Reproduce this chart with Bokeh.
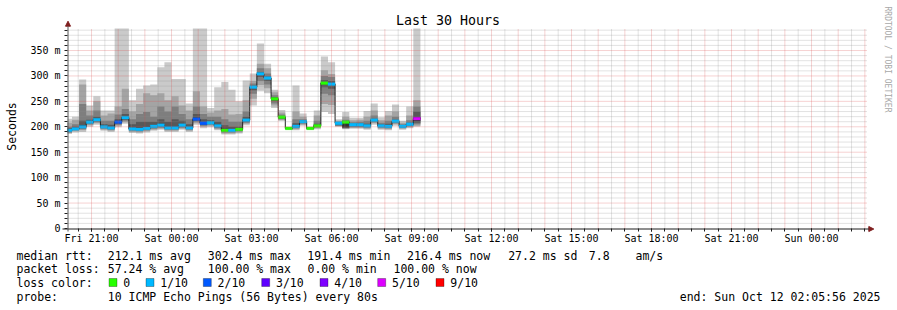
from math import pi
from bokeh.plotting import figure
from bokeh.models import FixedTicker, Label, BoxAnnotation, Arrow, NormalHead, Range1d, LinearAxis
from bokeh.embed import file_html
from bokeh.resources import INLINE

# ---------------- data ----------------
graph_start_h = 20 + 5 / 60 + 56 / 3600      # Fri 20:05:56 (hours since Fri 00:00)
graph_end_h = graph_start_h + 30              # Sun 02:05:56
step_h = 16 / 60                              # RRD step: 16 minutes
first_step_h = 20.0                           # first bin starts Fri 20:00

median_ms = [193, 196, 200, 209, 214, 200, 198, 209, 218, 196,
             195, 197, 201, 203, 198, 198, 203, 198, 215, 207,
             208, 202, 193, 193, 195, 213, 278, 304, 296, 255,
             219, 197, 201, 210, 197, 202, 286, 284, 207, 209,
             204, 204, 202, 213, 202, 201, 211, 201, 205, 216]
loss_level = [1, 1, 1, 1, 1, 1, 1, 2, 1, 1,
              1, 1, 1, 1, 1, 1, 1, 1, 2, 2,
              1, 1, 0, 1, 0, 1, 1, 1, 1, 0,
              0, 0, 1, 1, 0, 0, 0, 1, 1, 0,
              1, 1, 1, 1, 1, 1, 1, 1, 1, 5]
# sorted ping RTTs (ms) of each step, ping1 = fastest ... ping10 = slowest
ping1 = [186, 189, 190, 200, 204, 192, 190, 199, 206, 188, 187, 189, 192, 194, 190, 190, 194, 190, 204, 197,
         199, 193, 185, 185, 187, 203, 242, 271, 266, 237, 212, 194, 193, 202, 194, 195, 229, 225, 200, 195,
         196, 196, 194, 204, 194, 193, 202, 194, 197, 200]
ping2 = [188, 191, 193, 203, 207, 194, 192, 202, 209, 190, 189, 191, 194, 196, 192, 192, 196, 192, 207, 200,
         202, 195, 187, 187, 189, 206, 255, 282, 276, 242, 213, 195, 195, 204, 195, 197, 245, 243, 201, 196,
         198, 198, 196, 207, 196, 195, 205, 196, 199, 202]
ping3 = [189, 193, 195, 205, 209, 196, 194, 204, 212, 192, 191, 193, 196, 198, 194, 194, 198, 194, 210, 202,
         204, 197, 189, 189, 191, 208, 265, 290, 283, 246, 215, 195, 197, 206, 195, 199, 265, 262, 202, 197,
         199, 199, 198, 209, 198, 197, 207, 198, 201, 205]
ping4 = [190, 194, 197, 207, 211, 198, 196, 206, 214, 194, 193, 195, 198, 200, 196, 196, 200, 196, 212, 204,
         206, 199, 191, 191, 193, 210, 272, 298, 290, 250, 216, 196, 199, 208, 196, 200, 278, 275, 203, 198,
         201, 201, 200, 211, 200, 199, 209, 199, 203, 208]
ping5 = [192, 195, 199, 208, 213, 199, 197, 208, 216, 195, 194, 196, 200, 202, 197, 197, 202, 197, 214, 206,
         207, 201, 192, 192, 194, 212, 277, 302, 294, 253, 218, 196, 200, 209, 196, 201, 284, 282, 205, 199,
         203, 203, 201, 212, 201, 200, 210, 200, 204, 212]
ping6 = [194, 197, 203, 211, 216, 202, 200, 211, 220, 198, 198, 200, 203, 206, 201, 201, 205, 200, 218, 209,
         210, 204, 196, 195, 197, 215, 279, 305, 297, 256, 220, 197, 203, 211, 197, 203, 288, 286, 208, 211,
         205, 205, 203, 214, 203, 203, 212, 202, 206, 220]
ping7 = [197, 200, 212, 214, 220, 205, 204, 215, 225, 205, 210, 210, 210, 215, 210, 215, 212, 205, 225, 215,
         213, 210, 203, 200, 200, 220, 281, 308, 300, 258, 221, 198, 207, 212, 198, 206, 292, 290, 209, 211,
         206, 207, 206, 216, 205, 206, 214, 203, 208, 230]
ping8 = [200, 205, 245, 222, 232, 212, 212, 224, 235, 215, 225, 229, 220, 240, 230, 240, 225, 215, 240, 225,
         220, 220, 215, 210, 210, 230, 285, 315, 305, 262, 224, 198, 215, 215, 198, 212, 300, 298, 210, 214,
         209, 210, 212, 222, 208, 212, 220, 205, 213, 240]
ping9 = [208, 214, 283, 232, 250, 222, 226, 240, 275, 230, 245, 266, 262, 266, 252, 260, 242, 232, 270, 240,
         228, 232, 235, 224, 225, 252, 290, 324, 315, 268, 228, 199, 230, 220, 199, 222, 311, 304, 212, 220,
         213, 214, 220, 232, 213, 222, 230, 208, 222, 252]
ping10 = [216, 220, 293, 242, 260, 232, 232, 400, 400, 252, 275, 281, 283, 317, 327, 294, 294, 246, 400, 400,
          237, 278, 288, 273, 250, 291, 305, 364, 324, 273, 233, 200, 281, 226, 200, 232, 338, 327, 215, 229,
          218, 218, 231, 246, 219, 231, 244, 212, 240, 400]

x_tick_hours = [21, 24, 27, 30, 33, 36, 39, 42, 45, 48]
x_tick_labels = ["Fri 21:00", "Sat 00:00", "Sat 03:00", "Sat 06:00", "Sat 09:00",
                 "Sat 12:00", "Sat 15:00", "Sat 18:00", "Sat 21:00", "Sun 00:00"]
y_tick_values = [0, 50, 100, 150, 200, 250, 300, 350]
y_tick_labels = ["0", "50 m", "100 m", "150 m", "200 m", "250 m", "300 m", "350 m"]
y_top_ms = 393.3

loss_colors = {0: "#26ff00", 1: "#00b8ff", 2: "#0059ff", 3: "#5e00ff",
               4: "#7e00ff", 5: "#dd00ff", 9: "#ff0000"}
legend_names = ["0", "1/10", "2/10", "3/10", "4/10", "5/10", "9/10"]
legend_levels = [0, 1, 2, 3, 4, 5, 9]

title_text = "Last 30 Hours"
rtt_row = [("median rtt:", 16), ("212.1 ms avg", 107.3), ("302.4 ms max", 207.3),
           ("191.4 ms min", 306.8), ("216.4 ms now", 406.6), ("27.2 ms sd", 507.7),
           ("7.8", 588.3), ("am/s", 635)]
loss_row = [("packet loss:", 16), ("57.24 % avg", 107.3), ("100.00 % max", 207.3),
            ("0.00 % min", 307), ("100.00 % now", 393)]
probe_text = "10 ICMP Echo Pings (56 Bytes) every 80s"
end_text = "end: Sun Oct 12 02:05:56 2025"

# ---------------- layout (canvas pixels) ----------------
W, H = 897, 310
PL, PT, PW, PH = 67, 28, 800, 200          # plot area left/top/width/height
MONO = "DejaVu Sans Mono"
px_per_h = PW / 30
ms_per_px = y_top_ms / PH

x0 = graph_start_h - PL / px_per_h
x1 = graph_start_h + (W - PL) / px_per_h
y0 = -(H - PT - PH) * ms_per_px
y1 = (PT + PH) * ms_per_px

p = figure(width=W, height=H, min_border=0, x_range=Range1d(x0, x1), y_range=Range1d(y0, y1),
           x_axis_location=None, y_axis_location=None,
           output_backend="svg", toolbar_location=None,
           background_fill_color="white", border_fill_color="white", outline_line_color=None)
p.min_border_left = p.min_border_right = p.min_border_top = p.min_border_bottom = 0
p.xgrid.visible = False
p.ygrid.visible = False

hours = list(range(21, 51))
half_hours = [h + 0.5 for h in range(20, 50)]
minor_ms = [v for v in range(10, 400, 10) if v % 50]

n = len(median_ms)
lefts = [max(first_step_h + i * step_h, graph_start_h) for i in range(n)]
rights = [first_step_h + (i + 1) * step_h for i in range(n)]
edges = lefts + [rights[-1]]

# smoke: band k spans ping k .. ping (11-k), darker towards the middle
pings = [ping1, ping2, ping3, ping4, ping5, ping6, ping7, ping8, ping9, ping10]
smoke_cols = ["#cacaca", "#a4a4a4", "#7e7e7e", "#585858", "#323232"]
for k in range(5):
    lo = [min(v, y_top_ms) for v in pings[k]]
    hi = [min(v, y_top_ms) for v in pings[9 - k]]
    p.varea_step(x=edges, y1=lo + [lo[-1]], y2=hi + [hi[-1]], step_mode="after",
                 fill_color=smoke_cols[k])

p.step(x=edges, y=median_ms + [median_ms[-1]], mode="after", line_color="#202020", line_width=1)

sw = 1.4 * ms_per_px
band_cols = [loss_colors[l] for l in loss_level]
p.quad(left=lefts, right=rights, bottom=[m - sw for m in median_ms], top=[m + sw for m in median_ms],
       fill_color=band_cols, line_color=band_cols, line_width=0.3)

# grid drawn over the data, as rrdtool does
grid_minor = dict(line_color="#8f8f8f", line_alpha=0.5, line_dash="1 1", line_width=1)
grid_major = dict(line_color="#de4f4f", line_alpha=0.5, line_dash="1 1", line_width=1)
p.segment(x0=half_hours, x1=half_hours, y0=[0] * len(half_hours), y1=[y_top_ms] * len(half_hours), **grid_minor)
p.segment(x0=graph_start_h, x1=graph_end_h, y0=minor_ms, y1=minor_ms, **grid_minor)
p.segment(x0=hours, x1=hours, y0=[0] * len(hours), y1=[y_top_ms] * len(hours), **grid_major)
p.segment(x0=graph_start_h, x1=graph_end_h, y0=y_tick_values[1:], y1=y_tick_values[1:], **grid_major)

# ---------------- axes ----------------
xax = LinearAxis(fixed_location=0,
                 ticker=FixedTicker(ticks=x_tick_hours, minor_ticks=half_hours + hours),
                 major_label_overrides=dict(zip(x_tick_hours, x_tick_labels)))
yax = LinearAxis(fixed_location=graph_start_h,
                 ticker=FixedTicker(ticks=y_tick_values, minor_ticks=minor_ms),
                 major_label_overrides=dict(zip(y_tick_values, y_tick_labels)))
for ax in (xax, yax):
    ax.axis_line_color = None
    ax.major_tick_line_color = "#1f1f1f"
    ax.minor_tick_line_color = "#1f1f1f"
    ax.major_tick_in = 0
    ax.minor_tick_in = 0
    ax.major_tick_out = 3
    ax.minor_tick_out = 3
    ax.major_label_text_font = MONO
    ax.major_label_text_font_size = "10px"
    ax.major_label_text_color = "black"
xax.major_label_standoff = 1
yax.major_label_standoff = 4
p.add_layout(xax, "below")
p.add_layout(yax, "left")


def sx(cx):
    return cx


def sy(cy):
    return H - cy


arrow_col = "#801f1f"
p.add_layout(Arrow(end=NormalHead(size=5, fill_color=arrow_col, line_color=arrow_col),
                   x_start=sx(62), y_start=sy(228.5), x_end=sx(873.3), y_end=sy(228.5),
                   start_units="screen", end_units="screen", line_color="#1f1f1f", line_width=1))
p.add_layout(Arrow(end=NormalHead(size=5, fill_color=arrow_col, line_color=arrow_col),
                   x_start=sx(67.5), y_start=sy(231), x_end=sx(67.5), y_end=sy(20.7),
                   start_units="screen", end_units="screen", line_color="#555555", line_width=1))


def canvas_label(cx, cy, text, size="11.5px", align="left", angle=0, color="black"):
    p.add_layout(Label(x=sx(cx), y=sy(cy), x_units="screen", y_units="screen", text=text,
                       text_font=MONO, text_font_size=size, text_align=align,
                       text_baseline="middle", angle=angle, text_color=color))


canvas_label(447.5, 19.5, title_text, size="13.3px", align="center")
canvas_label(11, 126, "Seconds", size="11.5px", align="center", angle=pi / 2)
canvas_label(887, 59, "RRDTOOL / TOBI OETIKER", size="8px", align="center", angle=-pi / 2, color="#a8a8a8")

for txt, cx in rtt_row:
    canvas_label(cx, 255, txt)
for txt, cx in loss_row:
    canvas_label(cx, 268.5, txt)
canvas_label(16, 282, "loss color:")
box_x = [109, 146, 203.3, 261.7, 320, 377.7, 436]
for bx, name, lvl in zip(box_x, legend_names, legend_levels):
    p.add_layout(BoxAnnotation(left=sx(bx - 0.5), right=sx(bx + 7.5), bottom=sy(286), top=sy(278),
                               left_units="screen", right_units="screen",
                               bottom_units="screen", top_units="screen",
                               fill_color=loss_colors[lvl], fill_alpha=1,
                               line_color="black", line_width=1))
    canvas_label(bx + 13.8, 282, name)
canvas_label(16, 296, "probe:")
canvas_label(107.3, 296, probe_text)
canvas_label(880, 296, end_text, align="right")

open("out.html", "w").write(file_html(p, INLINE))
